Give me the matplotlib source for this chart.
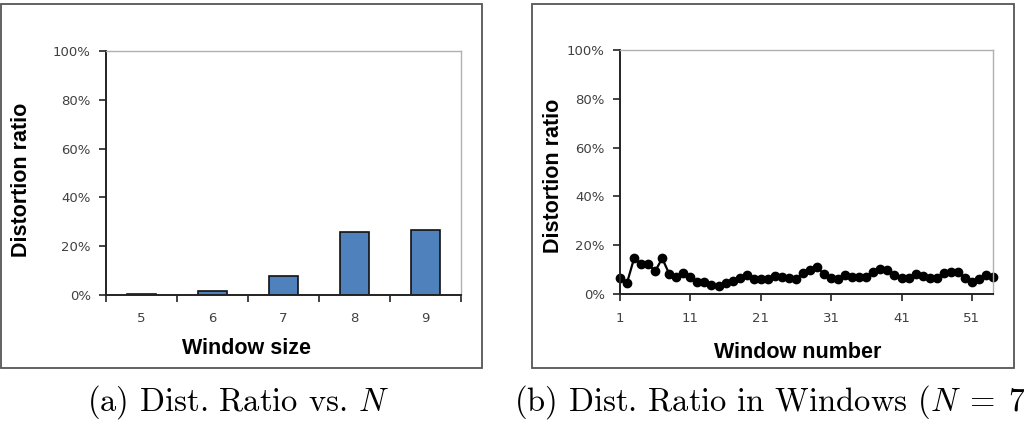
import numpy as np
import matplotlib
matplotlib.use("Agg")
import matplotlib.pyplot as plt
import matplotlib.ticker as ticker
from matplotlib.patches import Rectangle

W, H = 1024, 429

# data (a): distortion ratio per window size
window_sizes = [5, 6, 7, 8, 9]
size_ratio = [0.4, 1.8, 7.6, 25.8, 26.7]

# data (b): distortion ratio per window (N = 7)
window_ratio = [6.4, 4.6, 14.6, 12.3, 12.3, 9.4, 14.6, 8.2, 7.1, 8.5,
                6.8, 5.1, 5.1, 3.6, 3.3, 4.4, 5.3, 6.6, 7.7, 6.3,
                6.0, 6.3, 7.5, 6.8, 6.7, 6.0, 8.7, 10.0, 10.9, 8.2,
                6.4, 6.1, 7.8, 6.8, 7.0, 7.0, 9.2, 10.1, 9.8, 7.9,
                6.4, 6.4, 8.2, 7.4, 6.6, 6.6, 8.5, 9.2, 8.9, 6.6,
                5.1, 6.3, 7.9, 6.8]
window_numbers = np.arange(1, len(window_ratio) + 1)
window_ticks = [1, 11, 21, 31, 41, 51]
y_ticks = [0, 20, 40, 60, 80, 100]

tick_color = '#404040'
tick_font = 'DejaVu Sans'
label_font = 'Liberation Sans'
plt.rcParams['mathtext.fontset'] = 'cm'

fig = plt.figure(figsize=(W / 100, H / 100), dpi=100)


def px_axes(x0, y0, x1, y1):
    # pixel box (top-left origin) -> axes
    return fig.add_axes([x0 / W, (H - y1) / H, (x1 - x0) / W, (y1 - y0) / H])


def px_frame(x0, y0, x1, y1):
    fig.patches.append(Rectangle((x0 / W, (H - y1) / H), (x1 - x0) / W, (y1 - y0) / H,
                                 transform=fig.transFigure, fill=False,
                                 edgecolor='#555555', linewidth=1.3))


def style_axes(ax):
    for s in ['left', 'bottom']:
        ax.spines[s].set_color('#222222')
        ax.spines[s].set_linewidth(1.4)
    for s in ['top', 'right']:
        ax.spines[s].set_color('#b0b0b0')
        ax.spines[s].set_linewidth(1.0)
    ax.set_ylim(0, 100)
    ax.set_yticks(y_ticks)
    ax.yaxis.set_major_formatter(ticker.FuncFormatter(lambda v, p: f'{int(v)}%'))
    ax.tick_params(axis='y', direction='out', length=5, width=1.2, color='#222222',
                   labelsize=9.5, labelcolor=tick_color, pad=6)
    for t in ax.get_yticklabels():
        t.set_family(tick_font)


def place_labels(ax, xlab, xpos, ypos):
    ax.set_xlabel(xlab, fontsize=15.5, fontweight='bold', family=label_font, va='center')
    ax.set_ylabel('Distortion ratio', fontsize=15.5, fontweight='bold', family=label_font,
                  va='center')
    ax.xaxis.set_label_coords(*xpos)
    ax.yaxis.set_label_coords(*ypos)


# ---- (a) bar chart
px_frame(1, 4, 482, 368)
ax1 = px_axes(106, 51, 461, 295)
ax1.bar(window_sizes, size_ratio, width=0.4, color='#4f81bd', edgecolor='#111111', linewidth=1.2)
ax1.set_xlim(4.5, 9.5)
style_axes(ax1)
ax1.set_xticks(window_sizes)
ax1.set_xticks(np.arange(4.5, 10, 1), minor=True)
ax1.tick_params(axis='x', which='major', length=0, labelsize=9.5, labelcolor=tick_color, pad=12)
ax1.tick_params(axis='x', which='minor', direction='out', length=5, width=1.2, color='#222222')
place_labels(ax1, 'Window size', (0.397, -0.221), (-0.239, 0.471))

# ---- (b) line chart
px_frame(532, 4, 1014, 368)
ax2 = px_axes(620, 50, 993, 294)
ax2.plot(window_numbers, window_ratio, color='black', linewidth=1.6,
         marker='o', markersize=6, clip_on=False)
ax2.set_xlim(1, 54)
style_axes(ax2)
ax2.set_xticks(window_ticks)
ax2.tick_params(axis='x', direction='out', length=5, width=1.2, color='#222222',
                labelsize=9.5, labelcolor=tick_color, pad=8)
place_labels(ax2, 'Window number', (0.477, -0.238), (-0.177, 0.484))

# captions (the second one runs off the right edge, as in the source figure)
fig.text(238 / W, 1 - 402 / H, r'(a) Dist. Ratio vs. $N$', family='cmr10',
         fontsize=23.5, ha='center', va='center')
fig.text(514 / W, 1 - 402 / H, r'(b) Dist. Ratio in Windows ($N\;=\;7$)', family='cmr10',
         fontsize=23.5, ha='left', va='center')

fig.savefig('out.png', dpi=100)
